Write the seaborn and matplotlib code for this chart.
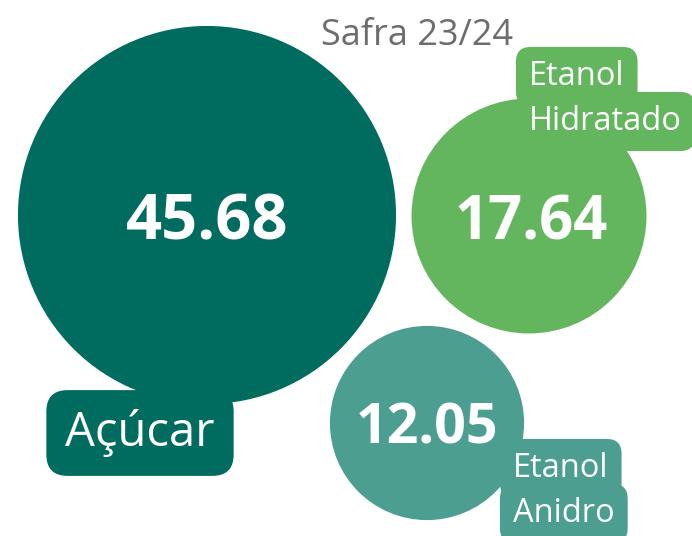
import matplotlib
matplotlib.use("Agg")
import matplotlib.pyplot as plt
import seaborn as sns
import pandas as pd

# data
products = ["Açúcar", "Etanol Hidratado", "Etanol Anidro"]
values = [45.68, 17.64, 12.05]
box_lines = [["Açúcar"], ["Etanol", "Hidratado"], ["Etanol", "Anidro"]]
subtitle = "Safra 23/24"

# layout (pixel coordinates, y down)
cx = [207, 529, 427]
cy = [215, 216, 423]
colors = ["#006b5f", "#63b65e", "#4c9e90"]

df = pd.DataFrame({"produto": products, "valor": values, "x": cx, "y": cy})

sns.set_style("white")
plt.rcParams["font.family"] = ["Open Sans", "DejaVu Sans"]

fig = plt.figure(figsize=(6.92, 5.36), dpi=100)
ax = fig.add_axes([0, 0, 1, 1])

# bubble area proportional to value (radius ~ 28 px * sqrt(v))
k = (1.44 * 27.97) ** 2
sns.scatterplot(data=df, x="x", y="y", hue="produto", size="valor",
                palette=dict(zip(products, colors)),
                sizes=(0, k * max(values)), size_norm=(0, max(values)),
                linewidth=0, alpha=1, legend=False, ax=ax, zorder=2)

ax.set_xlim(0, 692)
ax.set_ylim(536, 0)
ax.axis("off")

# values inside the bubbles
val_x = [207, 531, 427]
val_base = [240, 240, 444]
val_sizes = [45.5, 43, 40]
for x, y, v, fs in zip(val_x, val_base, values, val_sizes):
    ax.text(x, y, f"{v:.2f}", color="white", fontsize=fs,
            fontweight="bold", ha="center", va="baseline", zorder=4)

# label boxes, one box per line
box_x = [140, 529, 513]
box_ha = ["center", "left", "left"]
box_base = [[446], [85, 130], [477, 522]]
box_fs = [34, 23.5, 23.5]
for x, ha, bases, lines, c, fs in zip(box_x, box_ha, box_base, box_lines,
                                      colors, box_fs):
    for y, lab in zip(bases, lines):
        ax.text(x, y, lab, color="white", fontsize=fs, ha=ha, va="baseline",
                zorder=5,
                bbox=dict(boxstyle="round,pad=0.4,rounding_size=0.45",
                          fc=c, ec="none"))

ax.text(417, 45, subtitle, color="#6d6d6d", fontsize=26,
        ha="center", va="baseline", zorder=5)

fig.savefig("out.png", dpi=100)
